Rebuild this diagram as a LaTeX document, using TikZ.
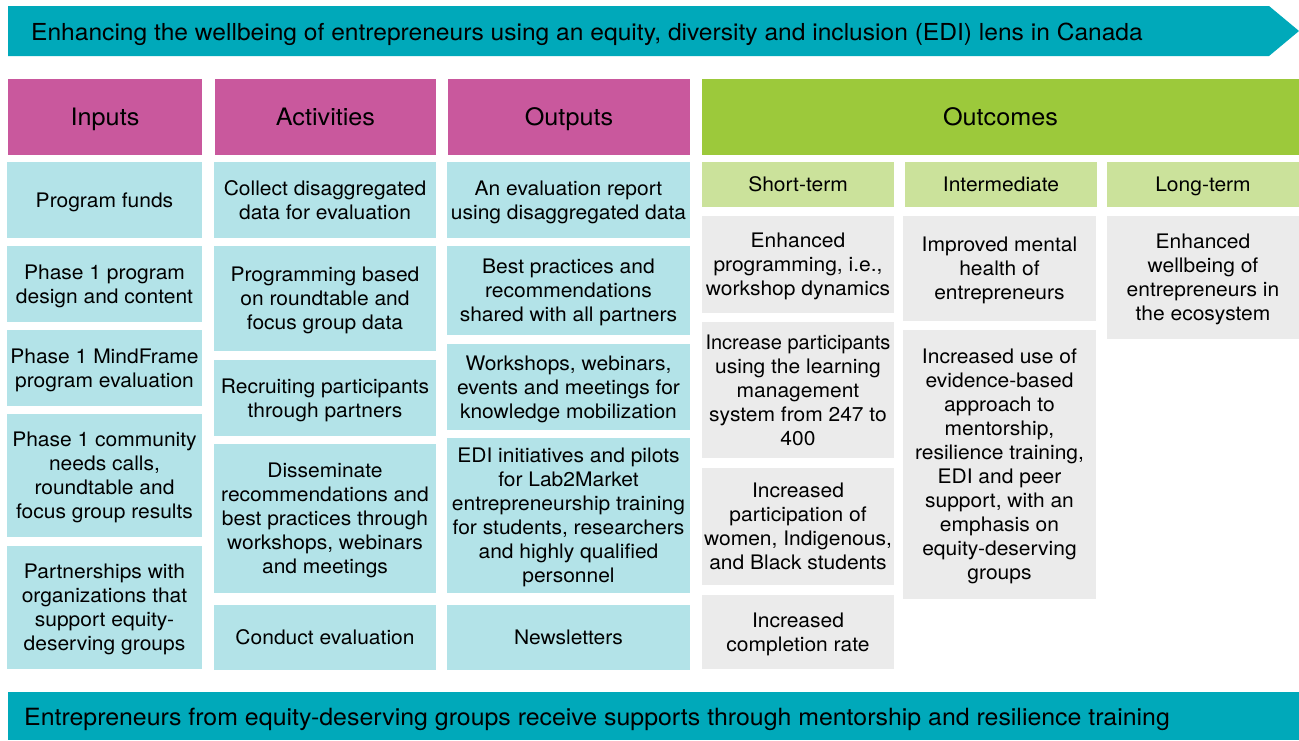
\documentclass[tikz,border=0pt]{standalone}
\usepackage{fontspec}
\setmainfont{TeX Gyre Heros}[FakeStretch=1.05]
\newfontfamily\lmnarrow{TeX Gyre Heros}
\definecolor{bannerteal}{HTML}{00A9BA}
\definecolor{headmag}{HTML}{C9589D}
\definecolor{headgreen}{HTML}{9CC93B}
\definecolor{subgreen}{HTML}{CBE29B}
\definecolor{cellcyan}{HTML}{B3E3E8}
\definecolor{cellgray}{HTML}{EBEBEB}
\newcommand\lmtop{\rule{0pt}{1.02em}}
\newcommand\lmbot{\rule[-0.3em]{0pt}{0.3em}}
\newcommand\lmcell[7]{\node[cellbase,#6,minimum width={(#4-#2)*1pt},minimum height={(#5-#3)*1pt}] (#1) at ({(#2+#4)/2},{(#3+#5)/2}) {\lmtop#7\lmbot};}
\begin{document}
\begin{tikzpicture}[x=1pt,y=-1pt,
  cellbase/.style={inner sep=0pt, outer sep=0pt, align=center, text=black, font=\fontsize{20}{24}\selectfont},
  hdr/.style={fill=headmag, font=\fontsize{24}{28}\selectfont},
  hdrg/.style={fill=headgreen, font=\fontsize{24}{28}\selectfont},
  subhdr/.style={fill=subgreen},
  cyan/.style={fill=cellcyan},
  gray/.style={fill=cellgray},
  bannertext/.style={inner sep=0pt, anchor=base west, text=black}]
\useasboundingbox (0,0) rectangle (1299,740);
% top banner
\fill[bannerteal] (8,6) -- (1269,6) -- (1299,31) -- (1269,56) -- (8,56) -- cycle;
\node[bannertext, font=\fontsize{23.4}{27}\selectfont] (title) at (31,40) {Enhancing the wellbeing of entrepreneurs using an equity, diversity and inclusion (EDI) lens in Canada};
% headers
\lmcell{hin}{8}{79}{202}{155}{hdr}{Inputs}
\lmcell{hact}{215}{79}{436}{155}{hdr}{Activities}
\lmcell{hout}{448}{79}{690}{155}{hdr}{Outputs}
\lmcell{hoc}{702}{79}{1299}{155}{hdrg}{Outcomes}
% inputs
\lmcell{in1}{7}{162}{202}{238}{cyan}{Program funds}
\lmcell{in2}{7}{246}{202}{322}{cyan}{Phase 1 program\\design and content}
\lmcell{in3}{7}{330}{202}{406}{cyan}{Phase 1 MindFrame\\program evaluation}
\lmcell{in4}{7}{414}{202}{537}{cyan}{Phase 1 community\\needs calls,\\roundtable and\\focus group results}
\lmcell{in5}{7}{546}{202}{669}{cyan}{Partnerships with\\organizations that\\support equity-\\deserving groups}
% activities
\lmcell{ac1}{214}{162}{436}{238}{cyan}{Collect disaggregated\\data for evaluation}
\lmcell{ac2}{214}{246}{436}{351}{cyan}{Programming based\\on roundtable and\\focus group data}
\lmcell{ac3}{214}{360}{436}{436}{cyan}{Recruiting participants\\through partners}
\lmcell{ac4}{214}{444}{436}{593}{cyan}{Disseminate\\recommendations and\\best practices through\\workshops, webinars\\and meetings}
\lmcell{ac5}{214}{605}{436}{670}{cyan}{Conduct evaluation}
% outputs
\lmcell{ou1}{447}{162}{690}{238}{cyan}{An evaluation report\\using disaggregated data}
\lmcell{ou2}{447}{246}{690}{335}{cyan}{Best practices and\\recommendations\\shared with all partners}
\lmcell{ou3}{447}{344}{690}{430}{cyan}{Workshops, webinars,\\events and meetings for\\knowledge mobilization}
\lmcell{ou4}{447}{438}{690}{593}{cyan}{EDI initiatives and pilots\\for Lab2Market\\entrepreneurship training\\for students, researchers\\and highly qualified\\personnel}
\lmcell{ou5}{447}{605}{690}{670}{cyan}{Newsletters}
% outcome subheaders
\lmcell{hst}{702}{162}{894}{207}{subhdr}{Short-term}
\lmcell{him}{905}{162}{1097}{207}{subhdr}{Intermediate}
\lmcell{hlt}{1107}{162}{1299}{207}{subhdr}{Long-term}
% short-term
\lmcell{st1}{702}{216}{894}{313}{gray}{Enhanced\\programming, i.e.,\\workshop dynamics}
\lmcell{st2}{702}{322}{894}{458}{gray}{{\lmnarrow Increase participants}\\using the learning\\management\\system from 247 to\\400}
\lmcell{st3}{702}{468}{894}{585}{gray}{Increased\\participation of\\women, Indigenous,\\and Black students}
\lmcell{st4}{702}{595}{894}{669}{gray}{Increased\\completion rate}
% intermediate
\lmcell{im1}{903}{216}{1096}{321}{gray}{Improved mental\\health of\\entrepreneurs}
\lmcell{im2}{903}{330}{1096}{599}{gray}{Increased use of\\evidence-based\\approach to\\mentorship,\\resilience training,\\EDI and peer\\support, with an\\emphasis on\\equity-deserving\\groups}
% long-term
\lmcell{lt1}{1107}{216}{1299}{339}{gray}{Enhanced\\wellbeing of\\entrepreneurs in\\the ecosystem}
% bottom banner
\fill[bannerteal] (8,692) rectangle (1299,740);
\node[bannertext, font=\fontsize{23.7}{27}\selectfont] (foot) at (24,725) {Entrepreneurs from equity-deserving groups receive supports through mentorship and resilience training};
\end{tikzpicture}
\end{document}
